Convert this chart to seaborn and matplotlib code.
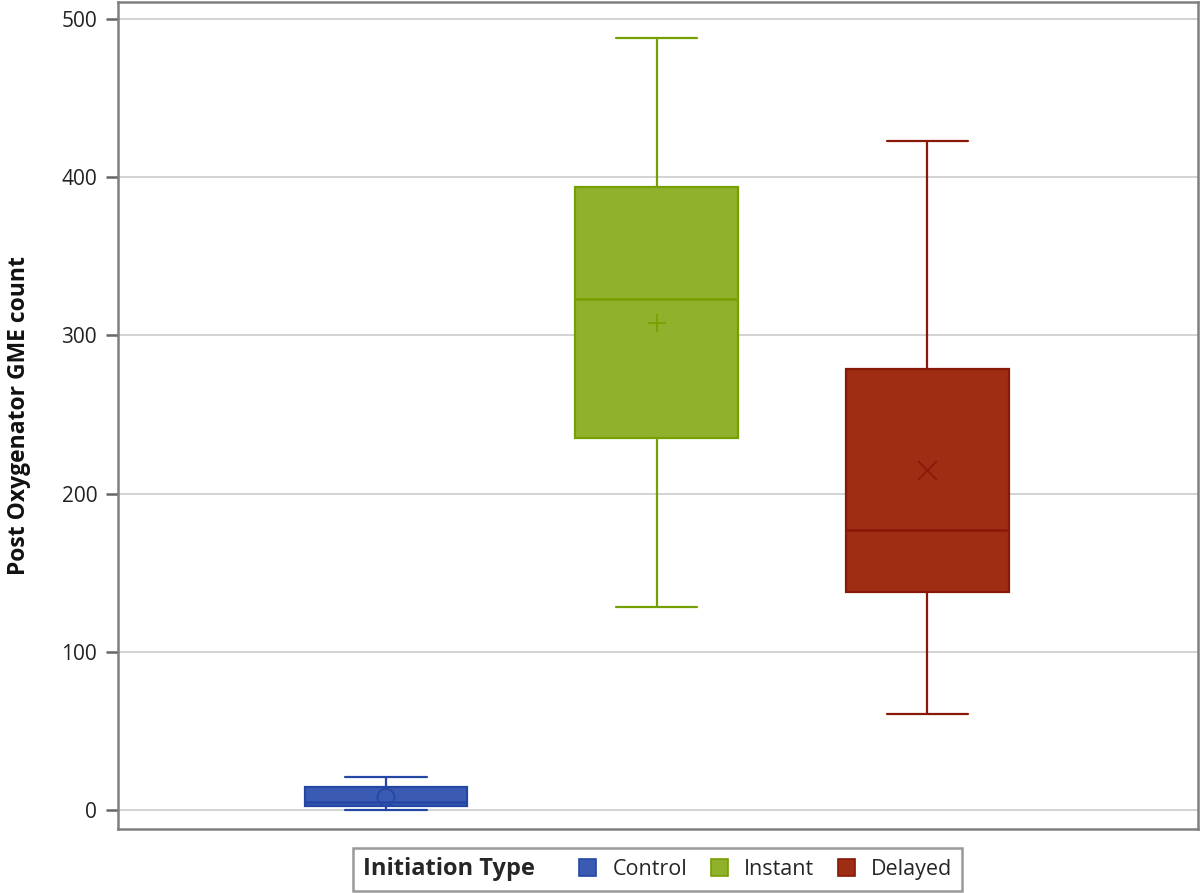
import matplotlib
matplotlib.use("Agg")
import matplotlib.pyplot as plt
import numpy as np
import pandas as pd
import seaborn as sns
from matplotlib.patches import Patch
from matplotlib.offsetbox import HPacker

# five-number summaries, plus the group means
CATS = ["Control", "Instant", "Delayed"]
MINS = [0, 128, 61]
Q1 = [2.5, 235, 138]
MEDIANS = [5, 323, 177]
Q3 = [14.5, 394, 279]
MAXS = [21, 488, 423]
MEANS = [8, 308, 215]
YTICKS = [0, 100, 200, 300, 400, 500]

FILL = {"Control": "#3B5BB3", "Instant": "#8FB12B", "Delayed": "#9E2D14"}
EDGE = {"Control": "#2447A4", "Instant": "#76A000", "Delayed": "#881808"}
MEAN_MARK = {"Control": "o", "Instant": "+", "Delayed": "x"}

sns.set_theme(style="white")
plt.rcParams["font.family"] = ["Open Sans", "DejaVu Sans"]

rows = []
for i, c in enumerate(CATS):
    for v in (MINS[i], Q1[i], MEDIANS[i], Q3[i], MAXS[i]):
        rows.append({"group": c, "value": v})
df = pd.DataFrame(rows)

fig = plt.figure(figsize=(12, 8.93), dpi=100)
ax = fig.add_axes([118 / 1200, 64 / 893, 1080 / 1200, 827 / 893])

for c in CATS:
    sns.boxplot(
        data=df[df["group"] == c], x="group", y="value", order=CATS,
        color=FILL[c], linecolor=EDGE[c], linewidth=1.6, width=0.6,
        whis=(0, 100), fliersize=0, saturation=1, ax=ax,
        boxprops={"facecolor": FILL[c], "edgecolor": EDGE[c]},
        medianprops={"color": EDGE[c], "linewidth": 1.8},
    )

for i, c in enumerate(CATS):
    if MEAN_MARK[c] == "o":
        ax.scatter([i], [MEANS[i]], s=150, marker="o", facecolors="none",
                   edgecolors=EDGE[c], linewidths=1.3, zorder=5)
    else:
        ax.scatter([i], [MEANS[i]], s=180, marker=MEAN_MARK[c],
                   color=EDGE[c], linewidths=1.2, zorder=5)

ax.set_xlim(-0.99, 3.0)
ax.set_ylim(-12, 510.7)
ax.set_yticks(YTICKS)
ax.set_xticks([])
ax.yaxis.grid(True, color="#D3D3D3", linewidth=1.4)
ax.set_axisbelow(True)
for s in ax.spines.values():
    s.set_color("#808080")
    s.set_linewidth(1.8)
ax.tick_params(axis="y", left=True, length=9, width=1.8, color="#666666",
               pad=6, labelsize=15, labelcolor="#222222")
ax.set_xlabel("")
ax.set_ylabel("Post Oxygenator GME count", fontsize=16.5, fontweight="bold",
              color="#111111", labelpad=22)

handles = [Patch(facecolor=FILL[c], edgecolor=EDGE[c], linewidth=1.2) for c in CATS]
leg = fig.legend(
    handles, CATS, loc="center", bbox_to_anchor=(0.548, 0.0265),
    ncol=3, frameon=True, fancybox=False, fontsize=15.5,
    title="Initiation Type", title_fontproperties={"weight": "bold", "size": 17},
    handlelength=0.8, handleheight=0.8, handletextpad=0.75, columnspacing=1.1,
    borderpad=0.45, edgecolor="#808080",
)
leg.get_frame().set_linewidth(1.8)
# put the legend title on the same row as the entries
leg._legend_box.__class__ = HPacker
leg._legend_box.sep = 32

fig.savefig("out.png", dpi=100, facecolor="white")
